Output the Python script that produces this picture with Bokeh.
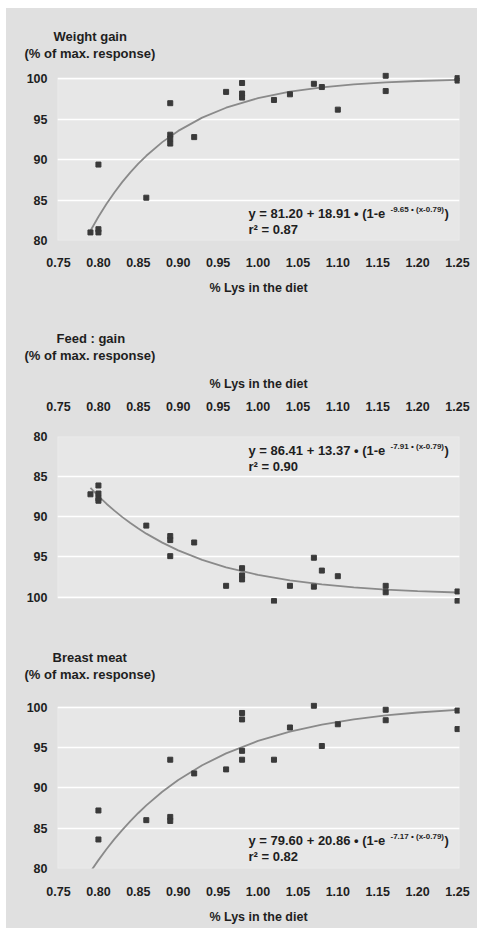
from bokeh.plotting import figure
from bokeh.models import Range1d, FixedTicker, NumeralTickFormatter, Label, BoxAnnotation, Title
from bokeh.layouts import column
from bokeh.embed import file_html
from bokeh.resources import INLINE

# ---------------- data ----------------
x_ticks = [0.75, 0.80, 0.85, 0.90, 0.95, 1.00, 1.05, 1.10, 1.15, 1.20, 1.25]
y_ticks = [80, 85, 90, 95, 100]

# Weight gain
wg_x = [0.79, 0.80, 0.80, 0.80, 0.86, 0.89, 0.89, 0.89, 0.89, 0.92, 0.96, 0.98, 0.98, 0.98,
        1.02, 1.04, 1.07, 1.08, 1.10, 1.16, 1.16, 1.25, 1.25]
wg_y = [81.0, 89.4, 81.4, 81.0, 85.3, 97.0, 93.1, 92.6, 92.0, 92.8, 98.4, 99.5, 98.2, 97.7,
        97.4, 98.1, 99.4, 99.0, 96.2, 100.4, 98.5, 100.1, 99.8]

# Feed : gain
fg_x = [0.79, 0.80, 0.80, 0.80, 0.80, 0.86, 0.89, 0.89, 0.89, 0.92, 0.96, 0.98, 0.98, 0.98,
        1.02, 1.04, 1.07, 1.07, 1.08, 1.10, 1.16, 1.16, 1.25, 1.25]
fg_y = [87.2, 86.1, 87.1, 87.7, 88.0, 91.1, 92.4, 92.9, 94.9, 93.2, 98.6, 96.4, 97.3, 97.8,
        100.5, 98.6, 95.1, 98.7, 96.7, 97.4, 98.6, 99.4, 99.3, 100.5]

# Breast meat
bm_x = [0.80, 0.80, 0.86, 0.89, 0.89, 0.89, 0.92, 0.96, 0.98, 0.98, 0.98, 0.98,
        1.02, 1.04, 1.07, 1.08, 1.10, 1.16, 1.16, 1.25, 1.25]
bm_y = [87.2, 83.6, 86.0, 93.5, 86.4, 85.9, 91.8, 92.3, 99.3, 98.5, 94.6, 93.5,
        93.5, 97.5, 100.2, 95.2, 97.9, 99.7, 98.4, 99.6, 97.3]

# fitted curves (values read along the drawn curves / printed equations)
fit_x = [0.79, 0.80, 0.81, 0.82, 0.83, 0.84, 0.85, 0.86, 0.88, 0.90, 0.93, 0.96,
         1.00, 1.04, 1.08, 1.12, 1.16, 1.20, 1.25]
wg_fit = [81.20, 82.94, 84.52, 85.95, 87.26, 88.44, 89.51, 90.49, 92.18, 93.57, 95.21, 96.44,
          97.62, 98.42, 98.96, 99.33, 99.58, 99.75, 99.89]
fg_fit = [86.41, 87.43, 88.37, 89.23, 90.04, 90.78, 91.46, 92.10, 93.22, 94.18, 95.36, 96.30,
          97.24, 97.93, 98.43, 98.80, 99.06, 99.26, 99.43]
bm_fit = [79.60, 81.04, 82.39, 83.64, 84.80, 85.88, 86.89, 87.83, 89.52, 90.98, 92.81, 94.29,
          95.83, 96.98, 97.85, 98.50, 98.99, 99.36, 99.69]

titles = [("Weight gain", "(% of max. response)"),
          ("Feed : gain", "(% of max. response)"),
          ("Breast meat", "(% of max. response)")]
eq_main = ["y = 81.20 + 18.91 \u2022 (1-e", "y = 86.41 + 13.37 \u2022 (1-e", "y = 79.60 + 20.86 \u2022 (1-e"]
eq_sup = ["-9.65 \u2022 (x-0.79)", "-7.91 \u2022 (x-0.79)", "-7.17 \u2022 (x-0.79)"]
r2 = ["r\u00b2 = 0.87", "r\u00b2 = 0.90", "r\u00b2 = 0.82"]
x_title = "% Lys in the diet"

# ---------------- style ----------------
FONT = "Liberation Sans"
BG = "#e0e0e0"
PLOT_BG = "#e7e7e7"
TXT = "#1e1e1e"
PT = "#3a3a3a"
CURVE = "#8a8a8a"
FRAME_LEFT = 57   # page x of frame left
ORIGIN_X = 6      # page x of figure left


def make_panel(h, bt, bb, y_range, above, xs, ys, fy, idx, frame_bottom, eq_y,
               spacer, t1_off, t2_off, lab_so, axlab_so):
    p = figure(width=471, height=h, output_backend="svg", toolbar_location=None, tools="",
               x_range=Range1d(0.7487, 1.2525), y_range=y_range,
               x_axis_location="above" if above else "below",
               min_border_left=FRAME_LEFT - ORIGIN_X, min_border_right=18,
               min_border_top=bt, min_border_bottom=bb,
               background_fill_color=BG, border_fill_color=BG, outline_line_color=None)
    p.add_layout(BoxAnnotation(left=0.7487, right=1.2525, bottom=80, top=100,
                               fill_color=PLOT_BG, fill_alpha=1.0, line_color="white",
                               line_width=1.5, level="image"))
    p.xgrid.grid_line_color = None
    p.ygrid.grid_line_color = "white"
    p.ygrid.grid_line_width = 1.6
    p.ygrid.ticker = FixedTicker(ticks=y_ticks)
    for ax in (p.xaxis[0], p.yaxis[0]):
        ax.axis_line_color = None
        ax.major_tick_line_color = None
        ax.minor_tick_line_color = None
        ax.major_label_text_font = FONT
        ax.major_label_text_font_style = "bold"
        ax.major_label_text_font_size = "12.5px"
        ax.major_label_text_color = TXT
    p.xaxis.ticker = FixedTicker(ticks=x_ticks)
    p.xaxis.formatter = NumeralTickFormatter(format="0.00")
    p.xaxis.major_label_standoff = lab_so
    p.xaxis.axis_label = x_title
    p.xaxis.axis_label_text_font = FONT
    p.xaxis.axis_label_text_font_style = "bold"
    p.xaxis.axis_label_text_font_size = "12.5px"
    p.xaxis.axis_label_text_color = TXT
    p.xaxis.axis_label_standoff = axlab_so
    p.yaxis.ticker = FixedTicker(ticks=y_ticks)
    p.yaxis.major_label_standoff = 4

    p.line(fit_x, fy, line_color=CURVE, line_width=1.8)
    p.scatter(xs, ys, marker="square", size=5, fill_color=PT, line_color=PT)

    def txt(px, py, text, size):
        p.add_layout(Label(x=px - FRAME_LEFT, y=frame_bottom - py, x_units="screen", y_units="screen",
                           text=text, text_font=FONT, text_font_style="bold", text_font_size=size,
                           text_color=TXT, text_align="left", text_baseline="middle"))

    txt(248, eq_y, eq_main[idx], "13px")
    txt(390, eq_y - 4, eq_sup[idx], "8px")
    txt(444, eq_y, ")", "13px")
    txt(248, eq_y + 16, r2[idx], "13px")

    # titles (stacked outward from the frame / axis)
    t1, t2 = titles[idx]
    p.add_layout(Title(text=" ", text_font_size="1px", standoff=spacer), "above")
    p.add_layout(Title(text=t2, align="left", offset=t2_off, standoff=0, text_font=FONT,
                       text_font_style="bold", text_font_size="13px", text_color=TXT), "above")
    p.add_layout(Title(text=t1, align="left", offset=t1_off, standoff=0, text_font=FONT,
                       text_font_style="bold", text_font_size="13px", text_color=TXT), "above")
    return p


p1 = make_panel(292, 64, 60, Range1d(80, 100.8), False, wg_x, wg_y, wg_fit, 0,
                frame_bottom=240, eq_y=213, spacer=9, t1_off=-4, t2_off=-33,
                lab_so=11, axlab_so=11)
p2 = make_panel(320, 136, 17, Range1d(100.8, 80), True, fg_x, fg_y, fg_fit, 1,
                frame_bottom=603, eq_y=450, spacer=8, t1_off=-1, t2_off=-33,
                lab_so=20, axlab_so=8)
p3 = make_panel(308, 82, 60, Range1d(80, 100.6), False, bm_x, bm_y, bm_fit, 2,
                frame_bottom=868, eq_y=840, spacer=18, t1_off=-5, t2_off=-33,
                lab_so=12, axlab_so=11)

layout = column(p1, p2, p3, spacing=0, margin=(8, 0, 0, 6), styles={"background-color": BG})
open("out.html", "w").write(file_html(layout, INLINE))
